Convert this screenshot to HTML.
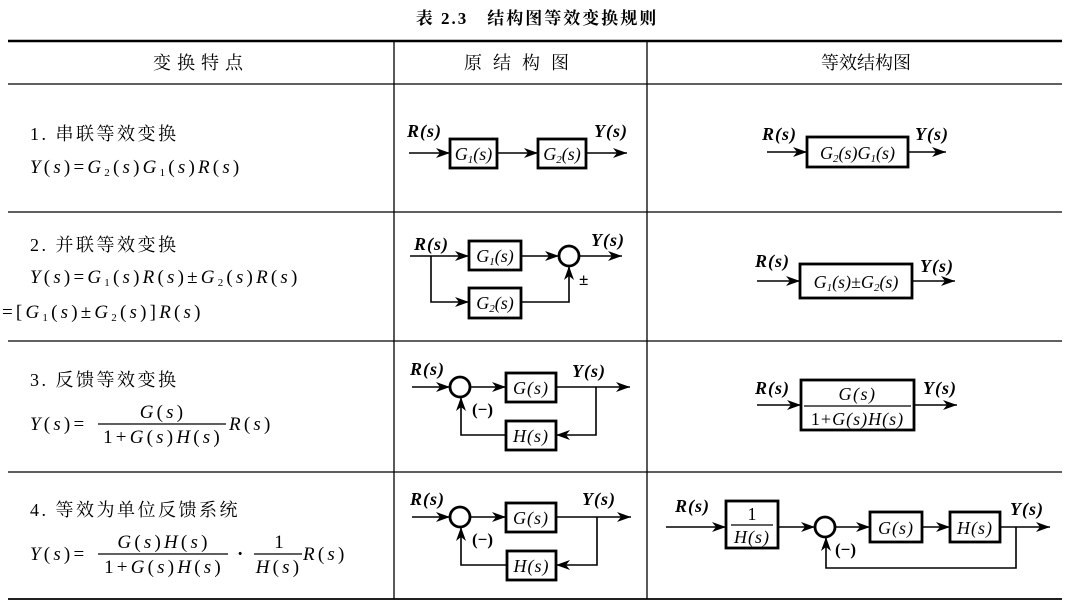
<!DOCTYPE html>
<html><head><meta charset="utf-8"><style>
html,body{margin:0;padding:0;background:#fff;}
svg{display:block;}
.cn{font-family:"Liberation Serif","Noto Serif CJK SC","Noto Sans CJK SC",serif;}
.m{font-family:"Liberation Serif",serif;font-style:italic;}
.r{font-family:"Liberation Serif",serif;}
.f{letter-spacing:3.2px;}
</style></head><body>
<svg width="1070" height="604" viewBox="0 0 1070 604" xmlns="http://www.w3.org/2000/svg">
<defs>
<marker id="a" markerUnits="userSpaceOnUse" markerWidth="16" markerHeight="12" refX="14" refY="5" orient="auto">
<path d="M0,0 L14,5 L0,10 L4,5 z" fill="#000"/>
</marker>
</defs>
<g fill="#000">
<text x="537" y="24" text-anchor="middle" font-size="17" font-weight="bold" class="cn" letter-spacing="2">表 2.3　结构图等效变换规则</text>
</g>
<g stroke="#000" fill="none">
<line x1="8" y1="41" x2="1062" y2="41" stroke-width="2.5"/>
<line x1="8" y1="84" x2="1062" y2="84" stroke-width="1.3"/>
<line x1="8" y1="212" x2="1062" y2="212" stroke-width="1.3"/>
<line x1="8" y1="341" x2="1062" y2="341" stroke-width="1.3"/>
<line x1="8" y1="472" x2="1062" y2="472" stroke-width="1.3"/>
<line x1="8" y1="599" x2="1062" y2="599" stroke-width="1.8"/>
<line x1="394" y1="41" x2="394" y2="599" stroke-width="1.3"/>
<line x1="647" y1="41" x2="647" y2="599" stroke-width="1.3"/>
</g>
<g class="cn" font-size="18" fill="#000">
<text x="201" y="69" text-anchor="middle" letter-spacing="6">变换特点</text>
<text x="522" y="69" text-anchor="middle" letter-spacing="11">原结构图</text>
<text x="866" y="69" text-anchor="middle">等效结构图</text>
<text x="30" y="140" letter-spacing="2.5">1. 串联等效变换</text>
<text x="30" y="251" letter-spacing="2.5">2. 并联等效变换</text>
<text x="30" y="386" letter-spacing="2.5">3. 反馈等效变换</text>
<text x="30" y="516" letter-spacing="2.5">4. 等效为单位反馈系统</text>
</g>
<g font-size="19" fill="#000">
<text x="30" y="173" class="f"><tspan class="m">Y</tspan><tspan class="r">(</tspan><tspan class="m">s</tspan><tspan class="r">)=</tspan><tspan class="m">G</tspan><tspan class="r" font-size="11" dy="3">2</tspan><tspan class="r" dy="-3">(</tspan><tspan class="m">s</tspan><tspan class="r">)</tspan><tspan class="m">G</tspan><tspan class="r" font-size="11" dy="3">1</tspan><tspan class="r" dy="-3">(</tspan><tspan class="m">s</tspan><tspan class="r">)</tspan><tspan class="m">R</tspan><tspan class="r">(</tspan><tspan class="m">s</tspan><tspan class="r">)</tspan></text>
<text x="30" y="283" class="f"><tspan class="m">Y</tspan><tspan class="r">(</tspan><tspan class="m">s</tspan><tspan class="r">)=</tspan><tspan class="m">G</tspan><tspan class="r" font-size="11" dy="3">1</tspan><tspan class="r" dy="-3">(</tspan><tspan class="m">s</tspan><tspan class="r">)</tspan><tspan class="m">R</tspan><tspan class="r">(</tspan><tspan class="m">s</tspan><tspan class="r">)±</tspan><tspan class="m">G</tspan><tspan class="r" font-size="11" dy="3">2</tspan><tspan class="r" dy="-3">(</tspan><tspan class="m">s</tspan><tspan class="r">)</tspan><tspan class="m">R</tspan><tspan class="r">(</tspan><tspan class="m">s</tspan><tspan class="r">)</tspan></text>
<text x="2" y="318" class="f"><tspan class="r">=[</tspan><tspan class="m">G</tspan><tspan class="r" font-size="11" dy="3">1</tspan><tspan class="r" dy="-3">(</tspan><tspan class="m">s</tspan><tspan class="r">)±</tspan><tspan class="m">G</tspan><tspan class="r" font-size="11" dy="3">2</tspan><tspan class="r" dy="-3">(</tspan><tspan class="m">s</tspan><tspan class="r">)]</tspan><tspan class="m">R</tspan><tspan class="r">(</tspan><tspan class="m">s</tspan><tspan class="r">)</tspan></text>
<text x="30" y="430" class="f"><tspan class="m">Y</tspan><tspan class="r">(</tspan><tspan class="m">s</tspan><tspan class="r">)=</tspan></text>
<text x="163" y="418" text-anchor="middle" class="f"><tspan class="m">G</tspan><tspan class="r">(</tspan><tspan class="m">s</tspan><tspan class="r">)</tspan></text>
<line x1="98" y1="424" x2="226" y2="424" stroke="#000" stroke-width="1.2"/>
<text x="163" y="443" text-anchor="middle" class="f"><tspan class="r">1+</tspan><tspan class="m">G</tspan><tspan class="r">(</tspan><tspan class="m">s</tspan><tspan class="r">)</tspan><tspan class="m">H</tspan><tspan class="r">(</tspan><tspan class="m">s</tspan><tspan class="r">)</tspan></text>
<text x="229" y="430" class="f"><tspan class="m">R</tspan><tspan class="r">(</tspan><tspan class="m">s</tspan><tspan class="r">)</tspan></text>
<text x="30" y="560" class="f"><tspan class="m">Y</tspan><tspan class="r">(</tspan><tspan class="m">s</tspan><tspan class="r">)=</tspan></text>
<text x="164" y="548" text-anchor="middle" class="f"><tspan class="m">G</tspan><tspan class="r">(</tspan><tspan class="m">s</tspan><tspan class="r">)</tspan><tspan class="m">H</tspan><tspan class="r">(</tspan><tspan class="m">s</tspan><tspan class="r">)</tspan></text>
<line x1="98" y1="554" x2="228" y2="554" stroke="#000" stroke-width="1.2"/>
<text x="164" y="573" text-anchor="middle" class="f"><tspan class="r">1+</tspan><tspan class="m">G</tspan><tspan class="r">(</tspan><tspan class="m">s</tspan><tspan class="r">)</tspan><tspan class="m">H</tspan><tspan class="r">(</tspan><tspan class="m">s</tspan><tspan class="r">)</tspan></text>
<text x="237" y="560" class="r" font-weight="bold">·</text>
<text x="279" y="548" text-anchor="middle" class="r">1</text>
<line x1="254" y1="554" x2="302" y2="554" stroke="#000" stroke-width="1.2"/>
<text x="279" y="573" text-anchor="middle" class="f"><tspan class="m">H</tspan><tspan class="r">(</tspan><tspan class="m">s</tspan><tspan class="r">)</tspan></text>
<text x="303" y="560" class="f"><tspan class="m">R</tspan><tspan class="r">(</tspan><tspan class="m">s</tspan><tspan class="r">)</tspan></text>
</g>

<g stroke="#000" stroke-width="1.6" fill="none">
<line x1="409" y1="153" x2="450" y2="153" marker-end="url(#a)"/>
<line x1="497" y1="153" x2="538" y2="153" marker-end="url(#a)"/>
<line x1="586" y1="153" x2="627" y2="153" marker-end="url(#a)"/>
<line x1="410" y1="256" x2="469" y2="256" marker-end="url(#a)"/>
<polyline points="431,256 431,302 469,302" marker-end="url(#a)"/>
<line x1="521" y1="256" x2="559" y2="256" marker-end="url(#a)"/>
<polyline points="521,302 569,302 569,266" marker-end="url(#a)"/>
<line x1="579" y1="256" x2="622" y2="256" marker-end="url(#a)"/>
<line x1="412" y1="387" x2="450" y2="387" marker-end="url(#a)"/>
<line x1="470" y1="387" x2="506" y2="387" marker-end="url(#a)"/>
<line x1="556" y1="387" x2="630" y2="387" marker-end="url(#a)"/>
<polyline points="596,387 596,435 556,435" marker-end="url(#a)"/>
<polyline points="506,435 461,435 461,397" marker-end="url(#a)"/>
<line x1="412" y1="517" x2="450" y2="517" marker-end="url(#a)"/>
<line x1="470" y1="517" x2="506" y2="517" marker-end="url(#a)"/>
<line x1="556" y1="517" x2="631" y2="517" marker-end="url(#a)"/>
<polyline points="597,517 597,565 556,565" marker-end="url(#a)"/>
<polyline points="507,565 461,565 461,527" marker-end="url(#a)"/>
<line x1="767" y1="152" x2="807" y2="152" marker-end="url(#a)"/>
<line x1="908" y1="152" x2="946" y2="152" marker-end="url(#a)"/>
<line x1="757" y1="281" x2="800" y2="281" marker-end="url(#a)"/>
<line x1="912" y1="281" x2="955" y2="281" marker-end="url(#a)"/>
<line x1="757" y1="405" x2="801" y2="405" marker-end="url(#a)"/>
<line x1="914" y1="405" x2="957" y2="405" marker-end="url(#a)"/>
<line x1="666" y1="527" x2="726" y2="527" marker-end="url(#a)"/>
<line x1="778" y1="527" x2="815" y2="527" marker-end="url(#a)"/>
<line x1="835" y1="527" x2="870" y2="527" marker-end="url(#a)"/>
<line x1="922" y1="527" x2="950" y2="527" marker-end="url(#a)"/>
<line x1="1000" y1="527" x2="1050" y2="527" marker-end="url(#a)"/>
<polyline points="1016,527 1016,568 826,568 826,537" marker-end="url(#a)"/>
</g>
<g stroke="#000" stroke-width="2.8" fill="#fff">
<circle cx="569" cy="256" r="10"/>
<circle cx="460" cy="387" r="10"/>
<circle cx="460" cy="517" r="10"/>
<circle cx="825" cy="527" r="10"/>
</g>
<g stroke="#000" stroke-width="2.8" fill="#fff">
<rect x="450" y="139" width="47" height="29"/>
<rect x="538" y="139" width="48" height="29"/>
<rect x="469" y="241" width="52" height="29"/>
<rect x="469" y="288" width="52" height="30"/>
<rect x="506" y="373" width="50" height="29"/>
<rect x="506" y="421" width="50" height="29"/>
<rect x="506" y="503" width="50" height="29"/>
<rect x="507" y="551" width="49" height="29"/>
<rect x="807" y="137" width="101" height="30"/>
<rect x="800" y="264" width="112" height="34"/>
<rect x="801" y="380" width="113" height="50"/>
<rect x="726" y="501" width="52" height="47"/>
<rect x="870" y="512" width="52" height="30"/>
<rect x="950" y="512" width="50" height="30"/>
</g>
<g font-size="18" fill="#000" font-weight="bold" letter-spacing="1">
<g class="m">
<text x="407" y="137">R(s)</text>
<text x="594" y="137">Y(s)</text>
<text x="414" y="250">R(s)</text>
<text x="591" y="246">Y(s)</text>
<text x="410" y="375">R(s)</text>
<text x="572" y="377">Y(s)</text>
<text x="410" y="505">R(s)</text>
<text x="582" y="505">Y(s)</text>
<text x="762" y="140">R(s)</text>
<text x="915" y="140">Y(s)</text>
<text x="755" y="267">R(s)</text>
<text x="920" y="272">Y(s)</text>
<text x="755" y="394">R(s)</text>
<text x="923" y="394">Y(s)</text>
<text x="675" y="512">R(s)</text>
<text x="1010" y="515">Y(s)</text>
</g>
</g>
<g font-size="18" fill="#000" class="m" font-weight="normal">
<text x="473.5" y="160" text-anchor="middle">G<tspan font-size="11" dy="3">1</tspan><tspan dy="-3">(s)</tspan></text>
<text x="562" y="160" text-anchor="middle">G<tspan font-size="11" dy="3">2</tspan><tspan dy="-3">(s)</tspan></text>
<text x="495" y="262" text-anchor="middle">G<tspan font-size="11" dy="3">1</tspan><tspan dy="-3">(s)</tspan></text>
<text x="495" y="309" text-anchor="middle">G<tspan font-size="11" dy="3">2</tspan><tspan dy="-3">(s)</tspan></text>
<text x="531" y="394" text-anchor="middle" letter-spacing="1">G(s)</text>
<text x="531" y="442" text-anchor="middle" letter-spacing="1">H(s)</text>
<text x="531" y="524" text-anchor="middle" letter-spacing="1">G(s)</text>
<text x="531.5" y="572" text-anchor="middle" letter-spacing="1">H(s)</text>
<text x="857.5" y="159" text-anchor="middle">G<tspan font-size="11" dy="3">2</tspan><tspan dy="-3">(s)G</tspan><tspan font-size="11" dy="3">1</tspan><tspan dy="-3">(s)</tspan></text>
<text x="856" y="288" text-anchor="middle">G<tspan font-size="11" dy="3">1</tspan><tspan dy="-3">(s)±G</tspan><tspan font-size="11" dy="3">2</tspan><tspan dy="-3">(s)</tspan></text>
<text x="857.5" y="400" text-anchor="middle" letter-spacing="1.5">G(s)</text>
<text x="857.5" y="425" text-anchor="middle" letter-spacing="1"><tspan font-style="normal">1+</tspan>G(s)H(s)</text>
<text x="752" y="520" text-anchor="middle" font-style="normal">1</text>
<text x="752" y="543" text-anchor="middle" letter-spacing="1">H(s)</text>
<text x="896" y="534" text-anchor="middle" letter-spacing="1">G(s)</text>
<text x="975" y="534" text-anchor="middle" letter-spacing="1">H(s)</text>
</g>
<line x1="804" y1="406" x2="911" y2="406" stroke="#000" stroke-width="1.2"/>
<line x1="731" y1="525" x2="773" y2="525" stroke="#000" stroke-width="1.2"/>
<g font-size="17" fill="#000" class="r" font-weight="bold">
<text x="579" y="285">±</text>
<text x="472" y="415">(−)</text>
<text x="472" y="545">(−)</text>
<text x="835" y="555">(−)</text>
</g>
</svg>
</body></html>
